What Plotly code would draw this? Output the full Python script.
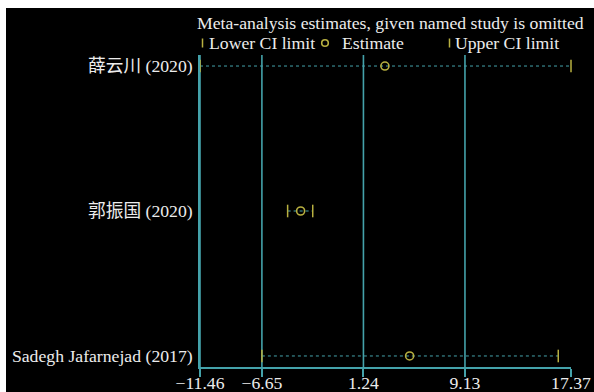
import plotly.graph_objects as go

# ---- data ----
studies = ["Sadegh Jafarnejad (2017)", "郭振国 (2020)", "薛云川 (2020)"]
lower = [-6.65, -4.65, -11.46]
estimate = [4.83, -3.64, 2.91]
upper = [16.38, -2.70, 17.37]
tick_vals = [-11.46, -6.65, 1.24, 9.13, 17.37]
tick_text = ["−11.46", "−6.65", "1.24", "9.13", "17.37"]
title_text = "Meta-analysis estimates, given named study is omitted"
legend_labels = ["Lower CI limit", "Estimate", "Upper CI limit"]

# ---- style ----
W, H = 594, 392
ML, MR, MT, MB = 200, 23, 55, 25
TEAL = "#44a2aa"
OLIVE = "#b8b040"
TXT = "#ececec"
FONT = "Liberation Serif, 'Times New Roman', 'Noto Sans CJK SC', serif"
FS = 17.7

PW = W - ML - MR
PH = H - MT - MB


def pxx(x):
    return (x - ML) / PW


def pxy(y):
    return (H - MB - y) / PH


fig = go.Figure()

for s, lo, hi in zip(studies, lower, upper):
    fig.add_trace(go.Scatter(x=[lo, hi], y=[s, s], mode="lines",
                             line=dict(color=TEAL, width=1, dash="dot"),
                             showlegend=False, hoverinfo="skip", cliponaxis=False))

fig.add_trace(go.Scatter(x=lower, y=studies, mode="markers", name=legend_labels[0],
                         marker=dict(symbol="line-ns", size=9, line=dict(color=OLIVE, width=1.5)),
                         cliponaxis=False, showlegend=False))
fig.add_trace(go.Scatter(x=estimate, y=studies, mode="markers", name=legend_labels[1],
                         marker=dict(symbol="circle-open", size=8, color=OLIVE, line=dict(color=OLIVE, width=1.6)),
                         cliponaxis=False, showlegend=False))
fig.add_trace(go.Scatter(x=upper, y=studies, mode="markers", name=legend_labels[2],
                         marker=dict(symbol="line-ns", size=9, line=dict(color=OLIVE, width=1.5)),
                         cliponaxis=False, showlegend=False))

shapes = []
for v in tick_vals[:-1]:
    shapes.append(dict(type="line", xref="x", yref="paper", x0=v, x1=v, y0=0, y1=1,
                       line=dict(color=TEAL, width=1.6), layer="below"))

# white strips at top and left, as in the reference picture
shapes.append(dict(type="rect", xref="paper", yref="paper", x0=pxx(-2), x1=pxx(W + 2),
                   y0=pxy(8), y1=pxy(-2), fillcolor="white", line=dict(width=0), layer="above"))
shapes.append(dict(type="rect", xref="paper", yref="paper", x0=pxx(-2), x1=pxx(6),
                   y0=pxy(H + 2), y1=pxy(-2), fillcolor="white", line=dict(width=0), layer="above"))

LEG_Y = 43
shapes.append(dict(type="line", xref="paper", yref="paper", xsizemode="pixel", ysizemode="pixel",
                   xanchor=pxx(202.5), yanchor=pxy(LEG_Y), x0=0, x1=0, y0=-4.5, y1=4.5,
                   line=dict(color=OLIVE, width=1.5)))
shapes.append(dict(type="circle", xref="paper", yref="paper", xsizemode="pixel", ysizemode="pixel",
                   xanchor=pxx(325), yanchor=pxy(LEG_Y), x0=-3.3, x1=3.3, y0=-3.3, y1=3.3,
                   line=dict(color=OLIVE, width=1.6)))
shapes.append(dict(type="line", xref="paper", yref="paper", xsizemode="pixel", ysizemode="pixel",
                   xanchor=pxx(449.5), yanchor=pxy(LEG_Y), x0=0, x1=0, y0=-4.5, y1=4.5,
                   line=dict(color=OLIVE, width=1.5)))

annotations = [
    dict(text=title_text, xref="paper", yref="paper", x=pxx(390), y=pxy(23),
         xanchor="center", yanchor="middle", showarrow=False, font=dict(family=FONT, size=FS, color=TXT)),
    dict(text=legend_labels[0], xref="paper", yref="paper", x=pxx(207), y=pxy(LEG_Y),
         xanchor="left", yanchor="middle", showarrow=False, font=dict(family=FONT, size=FS, color=TXT)),
    dict(text=legend_labels[1], xref="paper", yref="paper", x=pxx(340), y=pxy(LEG_Y),
         xanchor="left", yanchor="middle", showarrow=False, font=dict(family=FONT, size=FS, color=TXT)),
    dict(text=legend_labels[2], xref="paper", yref="paper", x=pxx(452.5), y=pxy(LEG_Y),
         xanchor="left", yanchor="middle", showarrow=False, font=dict(family=FONT, size=FS, color=TXT)),
]

fig.update_layout(
    width=W, height=H, autosize=False,
    margin=dict(l=ML, r=MR, t=MT, b=MB, pad=0, autoexpand=False),
    paper_bgcolor="black", plot_bgcolor="black",
    showlegend=False,
    shapes=shapes, annotations=annotations,
    font=dict(family=FONT, size=FS, color=TXT),
    xaxis=dict(range=[tick_vals[0], tick_vals[-1]], tickmode="array", tickvals=tick_vals, ticktext=tick_text,
               showgrid=False, zeroline=False, showline=True, linecolor=TEAL, linewidth=1.6,
               ticks="outside", ticklen=8, tickcolor=TEAL, tickwidth=1.6, automargin=False,
               ticklabelstandoff=-9,
               tickfont=dict(family=FONT, size=FS, color=TXT)),
    yaxis=dict(type="category", categoryorder="array", categoryarray=studies, range=[-0.076, 2.076],
               showgrid=False, zeroline=False, showline=True, linecolor=TEAL, linewidth=1.6,
               ticks="outside", ticklen=2, tickcolor="rgba(0,0,0,0)", automargin=False,
               tickfont=dict(family=FONT, size=FS, color=TXT)),
)

fig.write_html("out.html")
